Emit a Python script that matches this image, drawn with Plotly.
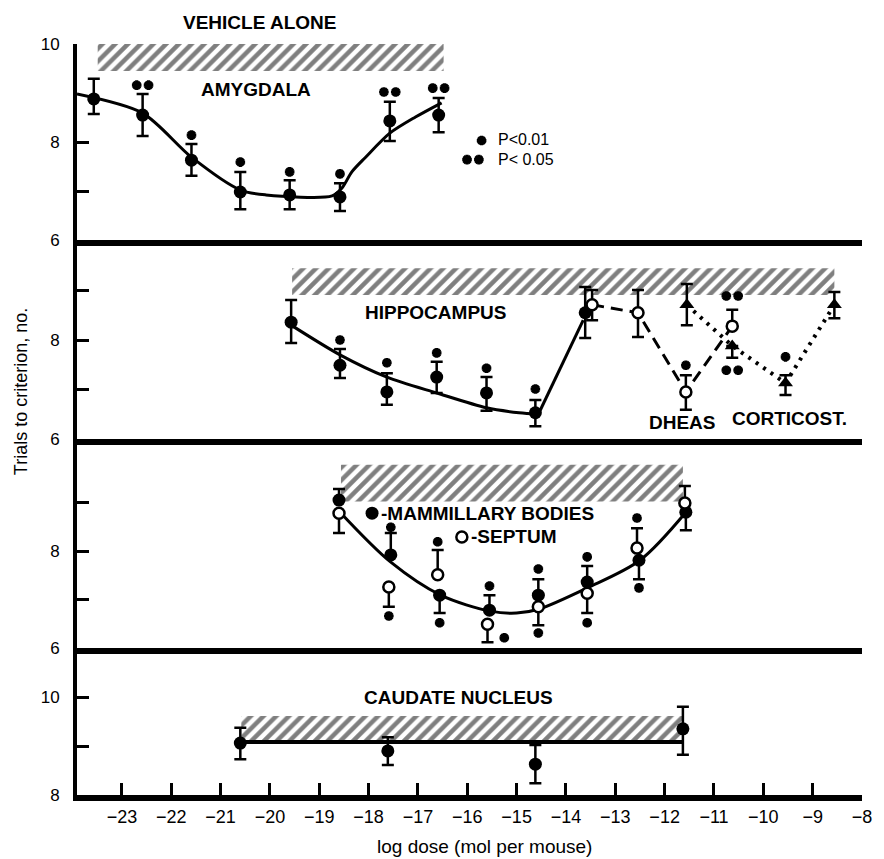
import plotly.graph_objects as go
from plotly.subplots import make_subplots

# ---------------- data ----------------
# Amygdala (panel 1)
amy_x = [-23.57, -22.58, -21.59, -20.60, -19.60, -18.58, -17.57, -16.58]
amy_y = [8.88, 8.55, 7.63, 6.98, 6.92, 6.88, 8.43, 8.55]
amy_plus = [0.41, 0.43, 0.33, 0.41, 0.30, 0.28, 0.39, 0.35]
amy_minus = [0.31, 0.43, 0.32, 0.35, 0.29, 0.29, 0.41, 0.35]
amy_fit_x = [-23.91, -22.58, -21.59, -20.60, -20.08, -18.74, -18.54, -18.34, -18.06, -17.57, -17.05, -16.52]
amy_fit_y = [8.98, 8.59, 7.69, 7.02, 6.92, 6.90, 7.06, 7.39, 7.69, 8.18, 8.51, 8.80]
amy_sig_x = [-22.58, -21.59, -20.60, -19.60, -18.58, -17.57, -16.58]
amy_sig_y = [9.16, 8.14, 7.59, 7.39, 7.35, 9.02, 9.10]
amy_sig_n = [2, 1, 1, 1, 1, 2, 2]

# Hippocampus (panel 2)
hip_x = [-19.57, -18.58, -17.63, -16.62, -15.61, -14.62, -13.61]
hip_y = [8.36, 7.49, 6.95, 7.25, 6.93, 6.53, 8.55]
hip_plus = [0.45, 0.33, 0.38, 0.31, 0.32, 0.26, 0.52]
hip_minus = [0.42, 0.26, 0.26, 0.32, 0.36, 0.27, 0.51]
hip_fit_x = [-19.57, -18.58, -17.63, -16.62, -15.61, -14.95, -14.56]
hip_fit_y = [8.30, 7.70, 7.25, 6.93, 6.63, 6.53, 6.50]
hip_rise_x = [-14.56, -13.65]
hip_rise_y = [6.50, 8.40]
hip_sig_x = [-18.58, -17.63, -16.62, -15.61, -14.62]
hip_sig_y = [8.00, 7.54, 7.74, 7.43, 7.01]
hip_sig_n = [1, 1, 1, 1, 1]

dheas_x = [-13.47, -12.54, -11.57, -10.63]
dheas_y = [8.71, 8.55, 6.95, 8.28]
dheas_plus = [0.30, 0.46, 0.34, 0.33]
dheas_minus = [0.31, 0.49, 0.36, 0.0]
dheas_sig_x = [-11.57, -10.63]
dheas_sig_y = [7.49, 8.89]
dheas_sig_n = [1, 2]

cort_x = [-11.55, -10.63, -9.55, -8.56]
cort_y = [8.71, 7.88, 7.13, 8.71]
cort_plus = [0.42, 0.0, 0.16, 0.26]
cort_minus = [0.41, 0.24, 0.24, 0.27]
cort_sig_x = [-10.63, -9.55]
cort_sig_y = [7.39, 7.66]
cort_sig_n = [2, 1]

# Mammillary bodies / septum (panel 3)
mam_x = [-18.60, -17.55, -16.56, -15.55, -14.56, -13.57, -12.52, -11.57]
mam_y = [9.05, 7.92, 7.09, 6.78, 7.09, 7.36, 7.81, 8.80]
mam_plus = [0.23, 0.45, 0.0, 0.31, 0.33, 0.33, 0.0, 0.0]
mam_minus = [0.0, 0.0, 0.37, 0.0, 0.0, 0.0, 0.39, 0.37]
mam_fit_x = [-18.56, -17.55, -16.54, -15.53, -15.00, -14.56, -13.57, -12.50, -11.57]
mam_fit_y = [8.78, 7.77, 7.09, 6.76, 6.72, 6.80, 7.24, 7.81, 8.80]
mam_sig_x = [-17.55, -16.56, -15.55, -14.56, -13.57, -12.52]
mam_sig_y = [8.49, 6.52, 7.28, 7.63, 7.88, 7.24]
mam_sig_n = [1, 1, 1, 1, 1, 1]

sep_x = [-18.60, -17.59, -16.60, -15.59, -14.56, -13.57, -12.56, -11.59]
sep_y = [8.78, 7.26, 7.51, 6.49, 6.85, 7.13, 8.06, 8.99]
sep_plus = [0.0, 0.0, 0.51, 0.0, 0.0, 0.0, 0.41, 0.35]
sep_minus = [0.41, 0.41, 0.0, 0.37, 0.38, 0.41, 0.0, 0.0]
sep_sig_x = [-17.59, -16.60, -15.25, -14.56, -13.57, -12.56]
sep_sig_y = [6.66, 8.19, 6.21, 6.31, 6.52, 8.68]
sep_sig_n = [1, 1, 1, 1, 1, 1]

# Caudate nucleus (panel 4)
cau_x = [-20.60, -17.61, -14.62, -11.63]
cau_y = [9.06, 8.90, 8.63, 9.35]
cau_plus = [0.31, 0.28, 0.39, 0.45]
cau_minus = [0.33, 0.29, 0.39, 0.53]
cau_line_x = [-20.58, -11.63]
cau_line_y = [9.08, 9.08]

# Vehicle-alone ranges (hatched bands): x0, x1, y0, y1 per panel
band_x0 = [-23.49, -19.55, -18.56, -20.58]
band_x1 = [-16.48, -8.56, -11.63, -11.63]
band_y0 = [9.45, 8.91, 9.02, 9.08]
band_y1 = [10.0, 9.45, 9.78, 9.61]

x_ticks = list(range(-23, -7))

# ---------------- figure ----------------
FONT = "Liberation Sans, Arial, sans-serif"
fig = make_subplots(rows=4, cols=1, shared_xaxes=True, vertical_spacing=0,
                    row_heights=[196, 199, 209, 147])

# hatched bands
for i in range(4):
    x0, x1, y0, y1 = band_x0[i], band_x1[i], band_y0[i], band_y1[i]
    fig.add_trace(go.Scatter(
        x=[x0, x1, x1, x0, x0], y=[y0, y0, y1, y1, y0], mode="lines",
        fill="toself", fillcolor="white", line=dict(width=0, color="rgba(0,0,0,0)"),
        fillpattern=dict(shape="/", fgcolor="black", bgcolor="white", size=9, solidity=0.5),
        hoverinfo="skip"), row=i + 1, col=1)

ERR = dict(type="data", symmetric=False, color="black", thickness=2.5, width=6)


def err(plus, minus):
    d = dict(ERR)
    d["array"] = plus
    d["arrayminus"] = minus
    return d


def line(x, y, row, dash="solid", width=3, shape="spline", smoothing=1.0):
    if shape == "spline":
        ln = dict(color="black", width=width, dash=dash, shape=shape, smoothing=smoothing)
    else:
        ln = dict(color="black", width=width, dash=dash)
    fig.add_trace(go.Scatter(x=x, y=y, mode="lines", line=ln, hoverinfo="skip"),
                  row=row, col=1)


def points(x, y, plus, minus, row, symbol="circle", filled=True, size=13):
    fig.add_trace(go.Scatter(
        x=x, y=y, mode="markers", error_y=err(plus, minus),
        marker=dict(symbol=symbol, size=size,
                    color="black" if filled else "white",
                    line=dict(color="black", width=0 if filled else 2.5)),
        hoverinfo="skip"), row=row, col=1)


def stars(sx, sy, sn, row):
    xs, ys = [], []
    for a, b, n in zip(sx, sy, sn):
        if n == 1:
            xs.append(a); ys.append(b)
        else:
            xs += [a - 0.12, a + 0.12]; ys += [b, b]
    fig.add_trace(go.Scatter(x=xs, y=ys, mode="markers",
                             marker=dict(symbol="asterisk-open", size=8, color="black",
                                         line=dict(color="black", width=3.2)),
                             hoverinfo="skip"), row=row, col=1)


# Panel 1: amygdala
line(amy_fit_x, amy_fit_y, 1, smoothing=0.8)
points(amy_x, amy_y, amy_plus, amy_minus, 1)
stars(amy_sig_x, amy_sig_y, amy_sig_n, 1)
stars([-15.71, -15.885], [8.03, 7.64], [1, 2], 1)

# Panel 2: hippocampus, DHEAS, corticosterone
line(hip_fit_x, hip_fit_y, 2, smoothing=0.8)
line(hip_rise_x, hip_rise_y, 2, shape="linear")
line(dheas_x, dheas_y, 2, dash="12px,7px", shape="linear")
line(cort_x, cort_y, 2, dash="3px,6px", width=4, shape="linear")
points(hip_x, hip_y, hip_plus, hip_minus, 2)
points(dheas_x, dheas_y, dheas_plus, dheas_minus, 2, filled=False, size=11)
points(cort_x, cort_y, cort_plus, cort_minus, 2, symbol="triangle-up", size=13)
stars(hip_sig_x, hip_sig_y, hip_sig_n, 2)
stars(dheas_sig_x, dheas_sig_y, dheas_sig_n, 2)
stars(cort_sig_x, cort_sig_y, cort_sig_n, 2)

# Panel 3: mammillary bodies & septum
line(mam_fit_x, mam_fit_y, 3, smoothing=0.9)
points(mam_x, mam_y, mam_plus, mam_minus, 3)
points(sep_x, sep_y, sep_plus, sep_minus, 3, filled=False, size=11)
stars(mam_sig_x, mam_sig_y, mam_sig_n, 3)
stars(sep_sig_x, sep_sig_y, sep_sig_n, 3)
# legend keys inside panel 3
fig.add_trace(go.Scatter(x=[-17.93], y=[8.78], mode="markers",
                         marker=dict(size=13, color="black"), hoverinfo="skip"), row=3, col=1)
fig.add_trace(go.Scatter(x=[-16.11], y=[8.29], mode="markers",
                         marker=dict(size=11, color="white", line=dict(color="black", width=2.5)),
                         hoverinfo="skip"), row=3, col=1)

# Panel 4: caudate
line(cau_line_x, cau_line_y, 4, width=4, shape="linear")
points(cau_x, cau_y, cau_plus, cau_minus, 4)

# ---------------- axes ----------------
y_ranges = [[6, 10.0], [6, 10.02], [6, 10.31], [8, 11.0]]
y_tickvals = [[10, 8, 7, 6], [9, 8, 7, 6], [9, 8, 7, 6], [10, 9, 8]]
y_ticktext = [["10", "8", "", "6"], ["", "8", "", "6"], ["", "8", "", "6"], ["10", "", "8"]]
tickfont = dict(family=FONT, size=17, color="black")
for i in range(4):
    fig.update_yaxes(range=y_ranges[i], tickvals=y_tickvals[i], ticktext=y_ticktext[i],
                     showline=True, linecolor="black", linewidth=4, ticks="inside",
                     ticklen=12, tickwidth=2.5, tickcolor="black", showgrid=False,
                     zeroline=False, tickfont=tickfont, ticklabelstandoff=10,
                     row=i + 1, col=1)
    fig.update_xaxes(range=[-23.91, -8.0], showline=True, linecolor="black", linewidth=6,
                     showgrid=False, zeroline=False, row=i + 1, col=1,
                     ticks="", showticklabels=False)
fig.update_xaxes(tickvals=x_ticks, ticks="inside", ticklen=12, tickwidth=2.5,
                 tickcolor="black", showticklabels=True,
                 tickfont=dict(family=FONT, size=18, color="black"),
                 ticklabelstandoff=0, row=4, col=1)

# ---------------- text ----------------
LBL = dict(family=FONT, size=19, color="black", weight="bold")
ann = [
    dict(text="VEHICLE ALONE", x=0.232, y=1.029, xref="paper", yref="paper"),
    dict(text="AMYGDALA", x=-20.29, y=9.08, xref="x", yref="y"),
    dict(text="HIPPOCAMPUS", x=-16.64, y=8.55, xref="x2", yref="y2"),
    dict(text="DHEAS", x=-11.63, y=6.34, xref="x2", yref="y2"),
    dict(text="CORTICOST.", x=-9.47, y=6.42, xref="x2", yref="y2"),
    dict(text="-MAMMILLARY BODIES", x=-17.78, y=8.78, xref="x3", yref="y3", xanchor="left"),
    dict(text="-SEPTUM", x=-15.96, y=8.29, xref="x3", yref="y3", xanchor="left"),
    dict(text="CAUDATE NUCLEUS", x=-16.17, y=10.0, xref="x4", yref="y4"),
]
for a in ann:
    a.setdefault("xanchor", "center")
    fig.add_annotation(**a, yanchor="middle", showarrow=False, font=LBL)

SMALL = dict(family=FONT, size=16, color="black")
fig.add_annotation(text="P<0.01", x=-15.41, y=8.05, xref="x", yref="y", xanchor="left",
                   yanchor="middle", showarrow=False, font=SMALL)
fig.add_annotation(text="P< 0.05", x=-15.41, y=7.64, xref="x", yref="y", xanchor="left",
                   yanchor="middle", showarrow=False, font=SMALL)

fig.add_annotation(text="Trials to criterion, no.", x=-0.072, y=0.537, xref="paper", yref="paper",
                   xanchor="center", yanchor="middle", textangle=-90, showarrow=False,
                   font=dict(family=FONT, size=18, color="black"))
fig.add_annotation(text="log dose (mol per mouse)", x=0.519, y=-0.069, xref="paper", yref="paper",
                   xanchor="center", yanchor="middle", showarrow=False,
                   font=dict(family=FONT, size=19, color="black"))

# the page body adds an 8px offset, so margins are reduced by 8px on the left/top
fig.update_layout(width=876, height=851, margin=dict(l=69, r=19, t=36, b=64),
                  plot_bgcolor="white", paper_bgcolor="white", showlegend=False)

fig.write_html("out.html")
